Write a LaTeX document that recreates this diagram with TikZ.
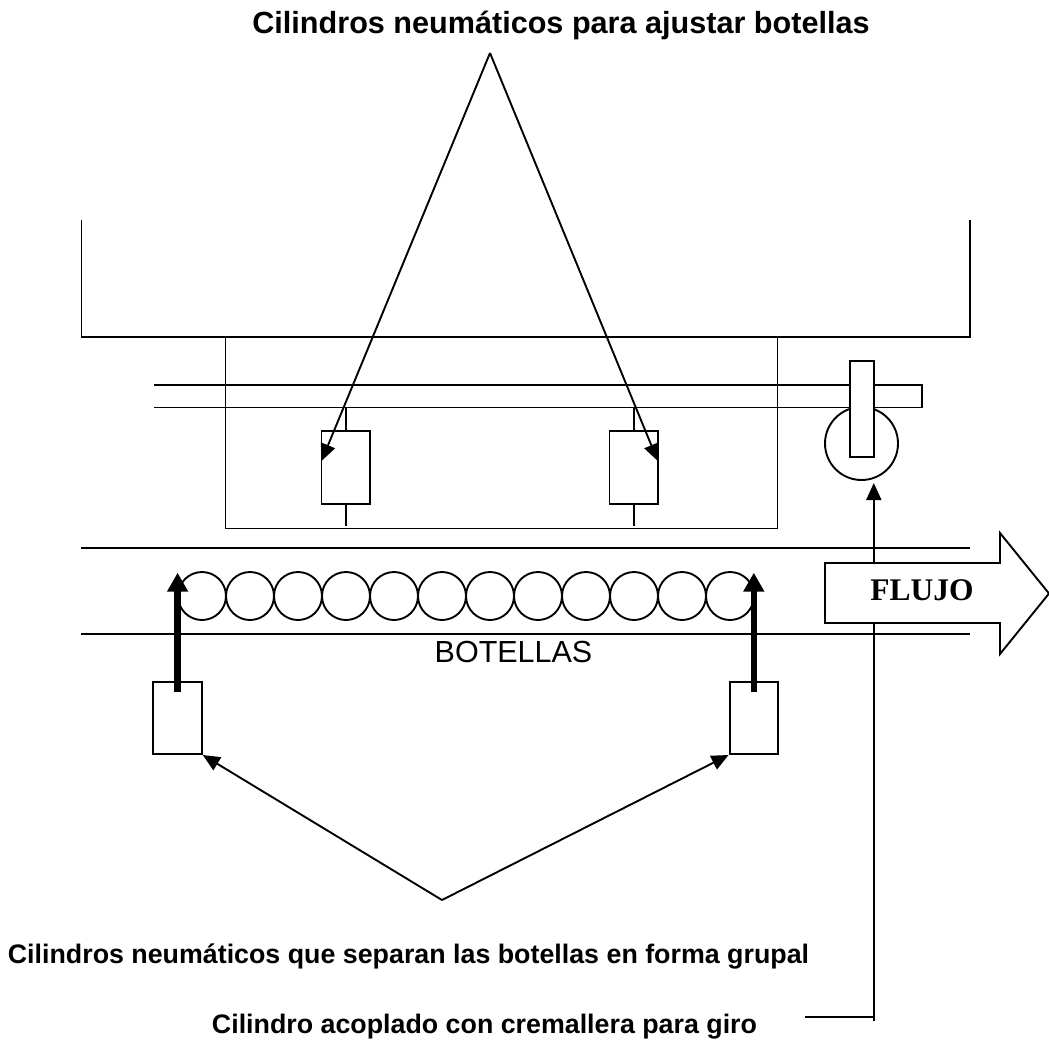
\documentclass[tikz,border=0pt]{standalone}
\usepackage{fontspec}
\setmainfont{Liberation Sans}
\newfontfamily\serifb{Liberation Serif}
\usetikzlibrary{arrows.meta}
\tikzset{
  x=1pt,y=-1pt,
  every path/.style={line width=1.9pt},
  box/.style={draw,minimum width=48.5pt,minimum height=72.5pt,inner sep=0pt,line width=1.9pt},
  ball/.style={draw,circle,minimum size=48pt,inner sep=0pt,line width=1.9pt},
  lbl/.style={inner sep=0pt,anchor=base,font=\fontsize{26.8}{30}\selectfont\bfseries},
  thin arrow/.style={-{Triangle[length=17pt,width=15pt]}},
  thick arrow/.style={line width=6.5pt,-{Triangle[length=19pt,width=20pt]}}
}
\begin{document}
\begin{tikzpicture}
\useasboundingbox (0,0) rectangle (1049,1042);
% frame
\draw (81.5,220) -- (81.5,337) -- (970,337) -- (970,220);
\draw (225.5,337) -- (225.5,528.5) -- (777.5,528.5) -- (777.5,337);
\draw (153.5,385) -- (922,385) -- (922,407.5) -- (153.5,407.5);
% conveyor
\draw (81,548) -- (970,548);
\draw (81,634) -- (970,634);
% slider
\node[draw,circle,minimum size=73pt,inner sep=0pt,line width=1.9pt] (wheel) at (861.5,443.5) {};
\node[draw,fill=white,minimum width=24pt,minimum height=96.5pt,inner sep=0pt,line width=1.9pt] (slider) at (861.7,408.8) {};
% cylinders upper
\node[box] (c1) at (345.7,467.3) {};
\node[box] (c2) at (633.7,467.3) {};
\coordinate (c1t) at (345.7,407.5); \coordinate (c1b) at (345.7,526);
\coordinate (c2t) at (633.7,407.5); \coordinate (c2b) at (633.7,526);
\draw (c1t) -- (c1.north); \draw (c1.south) -- (c1b);
\draw (c2t) -- (c2.north); \draw (c2.south) -- (c2b);
% bottles
\foreach \i in {0,...,11} \node[ball] (b\i) at ({202+48*\i},596) {};
% lower cylinders
\node[box] (c3) at (177.6,717.8) {};
\node[box] (c4) at (753.8,717.8) {};
\coordinate (t3) at (177.6,692); \coordinate (h3) at (177.6,572.7);
\coordinate (t4) at (753.8,692); \coordinate (h4) at (753.8,572.7);
\draw[thick arrow] (t3) -- (h3);
\draw[thick arrow] (t4) -- (h4);
% callouts
\coordinate (apexT) at (490,53);
\coordinate (tip1) at (321.5,461);
\coordinate (tip2) at (657.8,461);
\draw[thin arrow] (apexT) -- (tip1);
\draw[thin arrow] (apexT) -- (tip2);
\coordinate (apexB) at (442,900);
\draw[thin arrow] (apexB) -- (c3.south east);
\draw[thin arrow] (apexB) -- (c4.south west);
% long arrow
\coordinate (g0) at (805,1017);
\coordinate (g1) at (873.8,1017);
\coordinate (g3) at (873.8,1020.5);
\coordinate (g2) at (873.8,483);
\draw (g0) -- (g1);
\draw[thin arrow] (g3) -- (g2);
% flow arrow
\draw[fill=white] (825,563) -- (1000,563) -- (1000,533) -- (1049,593.5) -- (1000,654) -- (1000,623) -- (825,623) -- cycle;
\node[inner sep=0pt,anchor=base,font=\fontsize{31.5}{34}\serifb\bfseries] (flujo) at (922,600) {FLUJO};
% labels
\node[inner sep=0pt,anchor=base,font=\fontsize{30.5}{34}\selectfont] (bot) at (513.5,662.7) {BOTELLAS};
\node[lbl,font=\fontsize{30.6}{34}\selectfont\bfseries] (l1) at (561,33.5) {Cilindros neumáticos para ajustar botellas};
\node[lbl] (l2) at (408.5,963) {Cilindros neumáticos que separan las botellas en forma grupal};
\node[lbl] (l3) at (484.5,1033) {Cilindro acoplado con cremallera para giro};
\end{tikzpicture}
\end{document}
